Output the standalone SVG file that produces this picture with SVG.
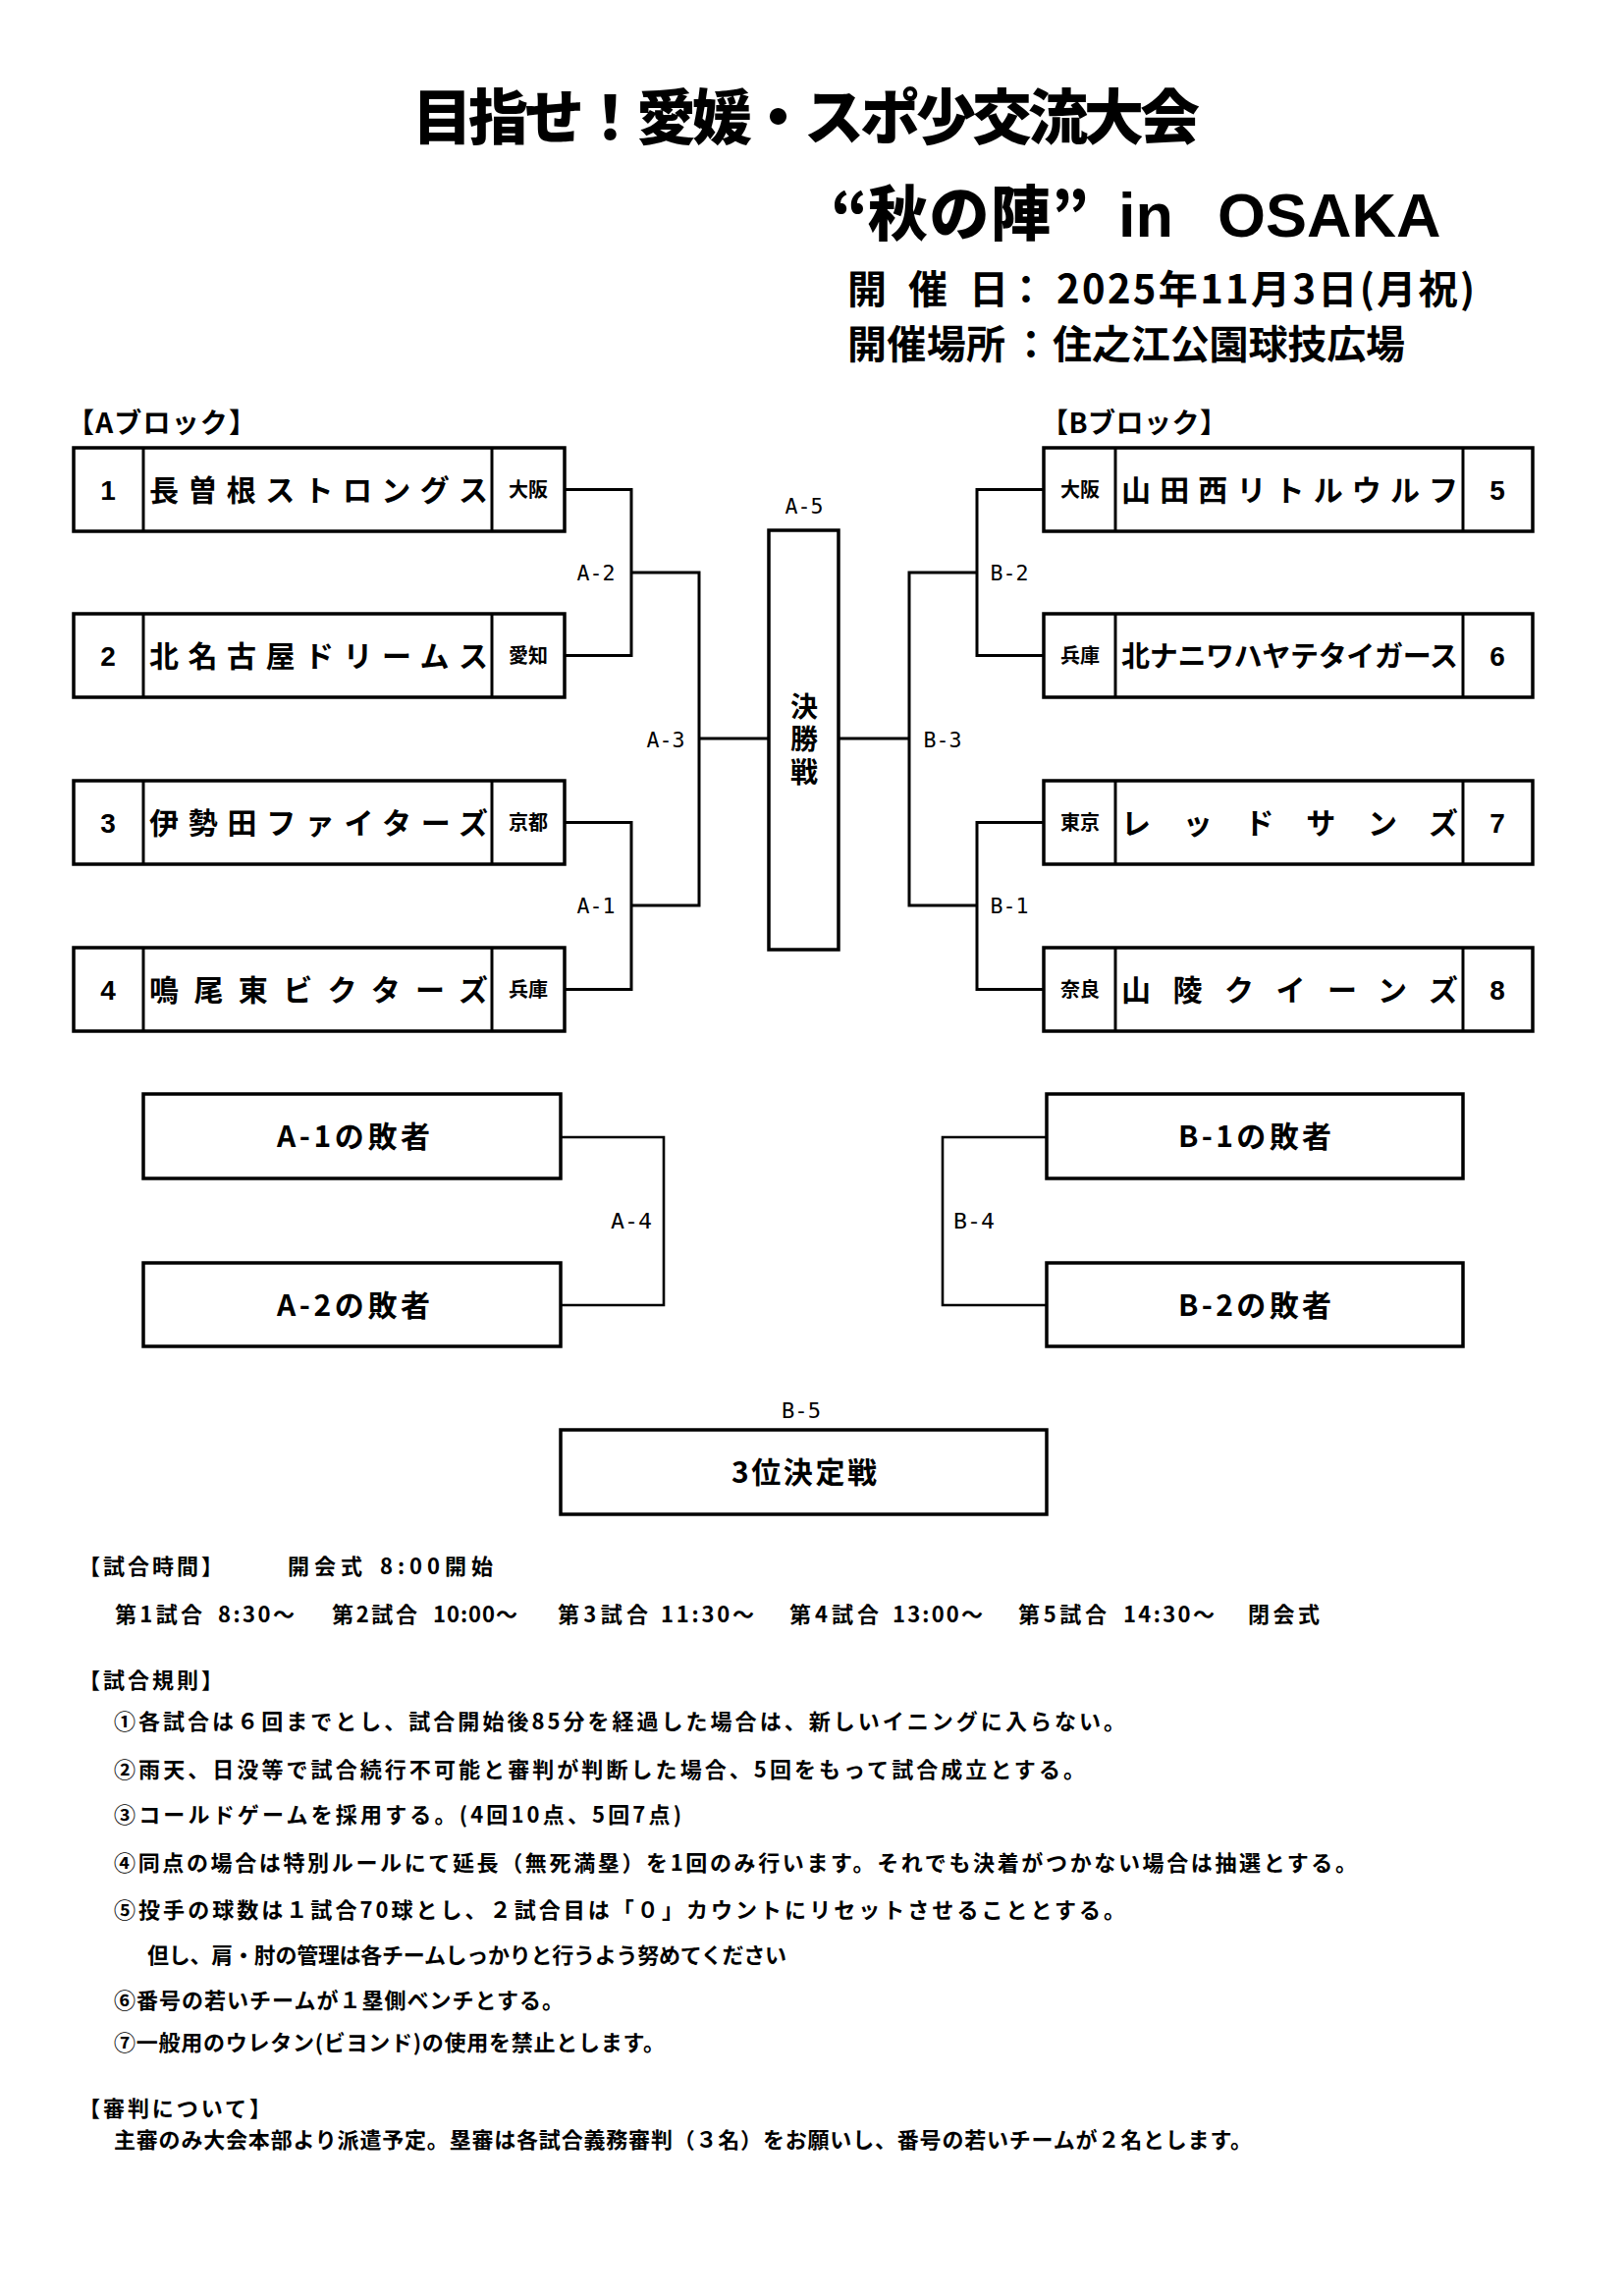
<svg xmlns="http://www.w3.org/2000/svg" width="1654" height="2338" viewBox="0 0 1654 2338">
<style>
.box{fill:#fff;stroke:#000;stroke-width:3.5}
.dv{stroke:#000;stroke-width:3}
.conn{fill:none;stroke:#000;stroke-width:3;stroke-linejoin:miter}
.conn2{fill:none;stroke:#000;stroke-width:2.6}
.jp{font-family:"Noto Sans CJK JP","Noto Sans CJK SC",sans-serif;font-weight:bold;fill:#000}
.hv{font-weight:900}
.lat{font-family:"Liberation Sans",Arial,sans-serif;font-weight:bold;fill:#000}
.num{font-family:"Liberation Sans",Arial,sans-serif;font-weight:bold;font-size:28px;text-anchor:middle}
.name{font-size:30px}
.pref{font-size:20px;text-anchor:middle}
.lbl{font-family:"DejaVu Sans Mono",monospace;font-size:21px;text-anchor:middle;fill:#000}
.mid{text-anchor:middle}
.rule{font-size:22px}
.vert{writing-mode:vertical-rl;letter-spacing:5.5px}
</style>
<rect x="0" y="0" width="1654" height="2338" fill="#fff"/>

<g id="title">
<text class="jp hv" x="420" y="142" font-size="61" textLength="802" lengthAdjust="spacing">目指せ！愛媛・スポ少交流大会</text>
<text class="jp hv" x="884" y="240" font-size="60" text-anchor="end">“</text>
<text class="jp hv" x="884" y="240" font-size="61" textLength="186" lengthAdjust="spacing">秋の陣</text>
<text class="jp hv" x="1071" y="240" font-size="60">”</text>
<text class="lat" x="1139" y="241" font-size="63">in</text>
<text class="lat" x="1240" y="241" font-size="63">OSAKA</text>
</g>

<g id="info">
<text class="jp" y="309" font-size="40"><tspan x="863">開</tspan><tspan x="925">催</tspan><tspan x="987">日</tspan></text>
<text class="jp" x="1025" y="309" font-size="40">：</text>
<text class="jp" x="1076" y="309" font-size="40" textLength="426" lengthAdjust="spacing">2025年11月3日(月祝)</text>
<text class="jp" x="863" y="365" font-size="40" textLength="161" lengthAdjust="spacing">開催場所</text>
<text class="jp" x="1030" y="365" font-size="40">：</text>
<text class="jp" x="1072" y="365" font-size="40" textLength="359" lengthAdjust="spacing">住之江公園球技広場</text>
</g>

<g id="blockA-label"><text class="jp" x="68" y="441" font-size="28" textLength="193" lengthAdjust="spacing">【Aブロック】</text></g>
<g id="blockB-label"><text class="jp" x="1060" y="441" font-size="28" textLength="190" lengthAdjust="spacing">【Bブロック】</text></g>

<g id="connectors">
<path class="conn" d="M575,498.5 H643 V667.5 H575 M643,583 H712 V922 H643 M575,837.5 H643 V1007.5 H575 M712,752 H783"/>
<path class="conn" d="M1063,498.5 H995 V667.5 H1063 M995,583 H926 V922 H995 M1063,837.5 H995 V1007.5 H1063 M926,752 H854"/>
<path class="conn2" d="M571,1158 H676 V1329 H571"/>
<path class="conn2" d="M1066,1158 H960 V1329 H1066"/>
</g>

<g id="match-labels">
<text class="lbl" x="607" y="591" textLength="39" lengthAdjust="spacingAndGlyphs">A-2</text>
<text class="lbl" x="607" y="930" textLength="39" lengthAdjust="spacingAndGlyphs">A-1</text>
<text class="lbl" x="678" y="761" textLength="39" lengthAdjust="spacingAndGlyphs">A-3</text>
<text class="lbl" x="819" y="523" textLength="39" lengthAdjust="spacingAndGlyphs">A-5</text>
<text class="lbl" x="1028" y="591" textLength="39" lengthAdjust="spacingAndGlyphs">B-2</text>
<text class="lbl" x="1028" y="930" textLength="39" lengthAdjust="spacingAndGlyphs">B-1</text>
<text class="lbl" x="960" y="761" textLength="39" lengthAdjust="spacingAndGlyphs">B-3</text>
<text class="lbl" x="643" y="1251" textLength="42" lengthAdjust="spacingAndGlyphs">A-4</text>
<text class="lbl" x="992" y="1251" textLength="42" lengthAdjust="spacingAndGlyphs">B-4</text>
<text class="lbl" x="816" y="1444" textLength="40" lengthAdjust="spacingAndGlyphs">B-5</text>
</g>

<g id="team1">
<rect class="box" x="75" y="456" width="500" height="85"/>
<line class="dv" x1="146" y1="456" x2="146" y2="541"/><line class="dv" x1="501" y1="456" x2="501" y2="541"/>
<text class="num" x="110" y="509">1</text>
<text class="jp name" x="152" y="509.5" textLength="345" lengthAdjust="spacing">長曽根ストロングス</text>
<text class="jp pref" x="538" y="506">大阪</text>
</g>
<g id="team2">
<rect class="box" x="75" y="625" width="500" height="85"/>
<line class="dv" x1="146" y1="625" x2="146" y2="710"/><line class="dv" x1="501" y1="625" x2="501" y2="710"/>
<text class="num" x="110" y="678">2</text>
<text class="jp name" x="152" y="678.5" textLength="345" lengthAdjust="spacing">北名古屋ドリームス</text>
<text class="jp pref" x="538" y="675">愛知</text>
</g>
<g id="team3">
<rect class="box" x="75" y="795" width="500" height="85"/>
<line class="dv" x1="146" y1="795" x2="146" y2="880"/><line class="dv" x1="501" y1="795" x2="501" y2="880"/>
<text class="num" x="110" y="848">3</text>
<text class="jp name" x="152" y="848.5" textLength="345" lengthAdjust="spacing">伊勢田ファイターズ</text>
<text class="jp pref" x="538" y="845">京都</text>
</g>
<g id="team4">
<rect class="box" x="75" y="965" width="500" height="85"/>
<line class="dv" x1="146" y1="965" x2="146" y2="1050"/><line class="dv" x1="501" y1="965" x2="501" y2="1050"/>
<text class="num" x="110" y="1018">4</text>
<text class="jp name" x="152" y="1018.5" textLength="345" lengthAdjust="spacing">鳴尾東ビクターズ</text>
<text class="jp pref" x="538" y="1015">兵庫</text>
</g>

<g id="team5">
<rect class="box" x="1063" y="456" width="498" height="85"/>
<line class="dv" x1="1136" y1="456" x2="1136" y2="541"/><line class="dv" x1="1490" y1="456" x2="1490" y2="541"/>
<text class="jp pref" x="1100" y="506">大阪</text>
<text class="jp name" x="1142" y="509.5" textLength="343" lengthAdjust="spacing">山田西リトルウルフ</text>
<text class="num" x="1525" y="509">5</text>
</g>
<g id="team6">
<rect class="box" x="1063" y="625" width="498" height="85"/>
<line class="dv" x1="1136" y1="625" x2="1136" y2="710"/><line class="dv" x1="1490" y1="625" x2="1490" y2="710"/>
<text class="jp pref" x="1100" y="675">兵庫</text>
<text class="jp" x="1142" y="678.5" font-size="29" textLength="343" lengthAdjust="spacing">北ナニワハヤテタイガース</text>
<text class="num" x="1525" y="678">6</text>
</g>
<g id="team7">
<rect class="box" x="1063" y="795" width="498" height="85"/>
<line class="dv" x1="1136" y1="795" x2="1136" y2="880"/><line class="dv" x1="1490" y1="795" x2="1490" y2="880"/>
<text class="jp pref" x="1100" y="845">東京</text>
<text class="jp name" x="1142" y="848.5" textLength="343" lengthAdjust="spacing">レッドサンズ</text>
<text class="num" x="1525" y="848">7</text>
</g>
<g id="team8">
<rect class="box" x="1063" y="965" width="498" height="85"/>
<line class="dv" x1="1136" y1="965" x2="1136" y2="1050"/><line class="dv" x1="1490" y1="965" x2="1490" y2="1050"/>
<text class="jp pref" x="1100" y="1015">奈良</text>
<text class="jp name" x="1142" y="1018.5" textLength="343" lengthAdjust="spacing">山陵クイーンズ</text>
<text class="num" x="1525" y="1018">8</text>
</g>

<g id="final">
<rect class="box" x="783" y="540" width="71" height="427"/>
<text class="jp vert" x="819" y="705" font-size="28">決勝戦</text>
</g>

<g id="loserA1">
<rect class="box" x="146" y="1114" width="425" height="86"/>
<text class="jp mid" x="360" y="1168" font-size="30" textLength="156" lengthAdjust="spacing">A-1の敗者</text>
</g>
<g id="loserA2">
<rect class="box" x="146" y="1286" width="425" height="85"/>
<text class="jp mid" x="360" y="1340" font-size="30" textLength="156" lengthAdjust="spacing">A-2の敗者</text>
</g>
<g id="loserB1">
<rect class="box" x="1066" y="1114" width="424" height="86"/>
<text class="jp mid" x="1278" y="1168" font-size="30" textLength="156" lengthAdjust="spacing">B-1の敗者</text>
</g>
<g id="loserB2">
<rect class="box" x="1066" y="1286" width="424" height="85"/>
<text class="jp mid" x="1278" y="1340" font-size="30" textLength="156" lengthAdjust="spacing">B-2の敗者</text>
</g>
<g id="third">
<rect class="box" x="571" y="1456" width="495" height="86"/>
<text class="jp mid" x="819" y="1510" font-size="30" textLength="148" lengthAdjust="spacing">3位決定戦</text>
</g>

<g id="schedule" class="jp rule">
<text x="80" y="1603" textLength="147" lengthAdjust="spacing">【試合時間】</text>
<text x="293" y="1603" textLength="76" lengthAdjust="spacing">開会式</text>
<text x="387" y="1603" textLength="115" lengthAdjust="spacing">8:00開始</text>
<text x="117" y="1652" textLength="89" lengthAdjust="spacing">第1試合</text>
<text x="222" y="1652" textLength="78" lengthAdjust="spacing">8:30～</text>
<text x="338" y="1652" textLength="87" lengthAdjust="spacing">第2試合</text>
<text x="441" y="1652" textLength="86" lengthAdjust="spacing">10:00～</text>
<text x="568" y="1652" textLength="92" lengthAdjust="spacing">第3試合</text>
<text x="673" y="1652" textLength="95" lengthAdjust="spacing">11:30～</text>
<text x="804" y="1652" textLength="91" lengthAdjust="spacing">第4試合</text>
<text x="909" y="1652" textLength="92" lengthAdjust="spacing">13:00～</text>
<text x="1037" y="1652" textLength="90" lengthAdjust="spacing">第5試合</text>
<text x="1144" y="1652" textLength="93" lengthAdjust="spacing">14:30～</text>
<text x="1271" y="1652" textLength="73" lengthAdjust="spacing">閉会式</text>
</g>

<g id="rules" class="jp rule">
<text x="80" y="1719" textLength="147" lengthAdjust="spacing">【試合規則】</text>
<text x="116" y="1761" textLength="1030" lengthAdjust="spacing">①各試合は６回までとし、試合開始後85分を経過した場合は、新しいイニングに入らない。</text>
<text x="116" y="1810" textLength="989" lengthAdjust="spacing">②雨天、日没等で試合続行不可能と審判が判断した場合、5回をもって試合成立とする。</text>
<text x="116" y="1856" textLength="578" lengthAdjust="spacing">③コールドゲームを採用する。(4回10点、5回7点)</text>
<text x="116" y="1905" textLength="1266" lengthAdjust="spacing">④同点の場合は特別ルールにて延長（無死満塁）を1回のみ行います。それでも決着がつかない場合は抽選とする。</text>
<text x="116" y="1953" textLength="1030" lengthAdjust="spacing">⑤投手の球数は１試合70球とし、２試合目は「０」カウントにリセットさせることとする。</text>
<text x="150" y="1999" textLength="651" lengthAdjust="spacing">但し、肩・肘の管理は各チームしっかりと行うよう努めてください</text>
<text x="116" y="2045" textLength="458" lengthAdjust="spacing">⑥番号の若いチームが１塁側ベンチとする。</text>
<text x="116" y="2088" textLength="561" lengthAdjust="spacing">⑦一般用のウレタン(ビヨンド)の使用を禁止とします。</text>
</g>

<g id="umpires" class="jp rule">
<text x="80" y="2155" textLength="196" lengthAdjust="spacing">【審判について】</text>
<text x="116" y="2187" textLength="1159" lengthAdjust="spacing">主審のみ大会本部より派遣予定。塁審は各試合義務審判（３名）をお願いし、番号の若いチームが２名とします。</text>
</g>
</svg>
